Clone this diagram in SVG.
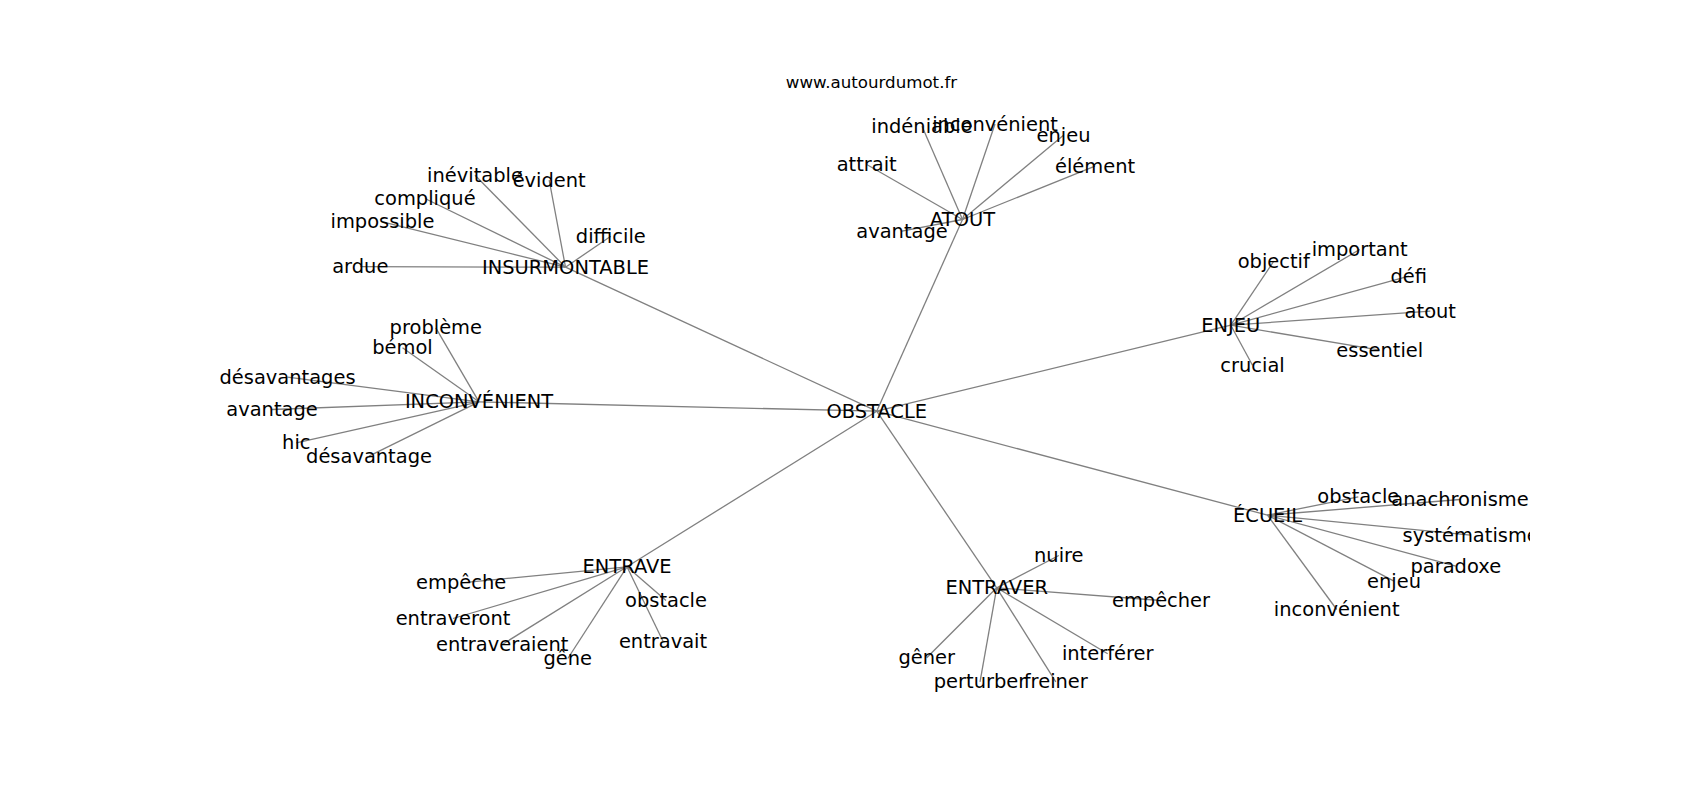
<svg xmlns="http://www.w3.org/2000/svg" width="1700" height="800" viewBox="0 0 1700 800">
<style>
text{font-family:"DejaVu Sans","Liberation Sans",sans-serif;font-size:19.44px;fill:#000;text-anchor:middle}
.title{font-size:16.67px}
#edges line{stroke:#808080;stroke-width:1.3}
</style>
<defs><clipPath id="ax"><rect x="212.5" y="96" width="1317.5" height="616"/></clipPath></defs>
<rect width="1700" height="800" fill="#fff"/>
<text class="title" x="871.5" y="88.3">www.autourdumot.fr</text>
<g id="edges" clip-path="url(#ax)">
<line x1="876.7" y1="411.2" x2="565.5" y2="267.2"/>
<line x1="876.7" y1="411.2" x2="962.5" y2="219.5"/>
<line x1="876.7" y1="411.2" x2="1230.8" y2="325.2"/>
<line x1="876.7" y1="411.2" x2="1267.5" y2="515.2"/>
<line x1="876.7" y1="411.2" x2="996.7" y2="587.8"/>
<line x1="876.7" y1="411.2" x2="627" y2="566.8"/>
<line x1="876.7" y1="411.2" x2="479" y2="401.8"/>
<line x1="565.5" y1="267.2" x2="360.3" y2="266.7"/>
<line x1="565.5" y1="267.2" x2="382.5" y2="221.8"/>
<line x1="565.5" y1="267.2" x2="425" y2="198.5"/>
<line x1="565.5" y1="267.2" x2="475" y2="175.2"/>
<line x1="565.5" y1="267.2" x2="549.2" y2="180.2"/>
<line x1="565.5" y1="267.2" x2="610.8" y2="236.2"/>
<line x1="962.5" y1="219.5" x2="922" y2="126.2"/>
<line x1="962.5" y1="219.5" x2="995" y2="124"/>
<line x1="962.5" y1="219.5" x2="1063.5" y2="135.2"/>
<line x1="962.5" y1="219.5" x2="1095" y2="166.2"/>
<line x1="962.5" y1="219.5" x2="866.7" y2="164.5"/>
<line x1="962.5" y1="219.5" x2="902" y2="231.2"/>
<line x1="479" y1="401.8" x2="435.8" y2="327.8"/>
<line x1="479" y1="401.8" x2="402.5" y2="347.8"/>
<line x1="479" y1="401.8" x2="287.5" y2="377.2"/>
<line x1="479" y1="401.8" x2="272" y2="409.5"/>
<line x1="479" y1="401.8" x2="296.3" y2="442.8"/>
<line x1="479" y1="401.8" x2="369" y2="456.2"/>
<line x1="1230.8" y1="325.2" x2="1273.8" y2="261.2"/>
<line x1="1230.8" y1="325.2" x2="1359.7" y2="249.5"/>
<line x1="1230.8" y1="325.2" x2="1408.8" y2="276.2"/>
<line x1="1230.8" y1="325.2" x2="1430.3" y2="311.2"/>
<line x1="1230.8" y1="325.2" x2="1379.8" y2="350.2"/>
<line x1="1230.8" y1="325.2" x2="1252.5" y2="365.2"/>
<line x1="1267.5" y1="515.2" x2="1358.3" y2="496.8"/>
<line x1="1267.5" y1="515.2" x2="1460" y2="499.5"/>
<line x1="1267.5" y1="515.2" x2="1470.7" y2="535.2"/>
<line x1="1267.5" y1="515.2" x2="1455.8" y2="566.2"/>
<line x1="1267.5" y1="515.2" x2="1394" y2="581.2"/>
<line x1="1267.5" y1="515.2" x2="1336.7" y2="609.5"/>
<line x1="627" y1="566.8" x2="461.2" y2="582.8"/>
<line x1="627" y1="566.8" x2="453" y2="618.5"/>
<line x1="627" y1="566.8" x2="502.2" y2="644.5"/>
<line x1="627" y1="566.8" x2="567.8" y2="658.5"/>
<line x1="627" y1="566.8" x2="666" y2="600.5"/>
<line x1="627" y1="566.8" x2="663" y2="641.2"/>
<line x1="996.7" y1="587.8" x2="1058.8" y2="555.5"/>
<line x1="996.7" y1="587.8" x2="1161" y2="600.5"/>
<line x1="996.7" y1="587.8" x2="1107.7" y2="653.8"/>
<line x1="996.7" y1="587.8" x2="926.7" y2="657.8"/>
<line x1="996.7" y1="587.8" x2="980" y2="681.8"/>
<line x1="996.7" y1="587.8" x2="1055.8" y2="681.8"/>
</g>
<g id="labels" clip-path="url(#ax)">
<g transform="translate(0,1)">
<g id="n-obstacle"><text x="876.7" y="416.7">OBSTACLE</text></g>
<g id="n-insurmontable"><text x="565.5" y="272.7">INSURMONTABLE</text></g>
<g id="n-atout"><text x="962.5" y="225">ATOUT</text></g>
<g id="n-enjeu"><text x="1230.8" y="330.7">ENJEU</text></g>
<g id="n-ecueil"><text x="1267.5" y="520.7">ÉCUEIL</text></g>
<g id="n-entraver"><text x="996.7" y="593.3">ENTRAVER</text></g>
<g id="n-entrave"><text x="627" y="572.3">ENTRAVE</text></g>
<g id="n-inconvenient"><text x="479" y="407.3">INCONVÉNIENT</text></g>
<g id="n-ardue"><text x="360.3" y="272.2">ardue</text></g>
<g id="n-impossible"><text x="382.5" y="227.3">impossible</text></g>
<g id="n-complique"><text x="425" y="204">compliqué</text></g>
<g id="n-inevitable"><text x="475" y="180.7">inévitable</text></g>
<g id="n-evident"><text x="549.2" y="185.7">évident</text></g>
<g id="n-difficile"><text x="610.8" y="241.7">difficile</text></g>
<g id="n-indeniable"><text x="922" y="131.7">indéniable</text></g>
<g id="n-inconvenient-a"><text x="995" y="129.5">inconvénient</text></g>
<g id="n-enjeu-a"><text x="1063.5" y="140.7">enjeu</text></g>
<g id="n-element"><text x="1095" y="171.7">élément</text></g>
<g id="n-attrait"><text x="866.7" y="170">attrait</text></g>
<g id="n-avantage-a"><text x="902" y="236.7">avantage</text></g>
<g id="n-probleme"><text x="435.8" y="333.3">problème</text></g>
<g id="n-bemol"><text x="402.5" y="353.3">bémol</text></g>
<g id="n-desavantages"><text x="287.5" y="382.7">désavantages</text></g>
<g id="n-avantage"><text x="272" y="415">avantage</text></g>
<g id="n-hic"><text x="296.3" y="448.3">hic</text></g>
<g id="n-desavantage"><text x="369" y="461.7">désavantage</text></g>
<g id="n-objectif"><text x="1273.8" y="266.7">objectif</text></g>
<g id="n-important"><text x="1359.7" y="255">important</text></g>
<g id="n-defi"><text x="1408.8" y="281.7">défi</text></g>
<g id="n-atout-e"><text x="1430.3" y="316.7">atout</text></g>
<g id="n-essentiel"><text x="1379.8" y="355.7">essentiel</text></g>
<g id="n-crucial"><text x="1252.5" y="370.7">crucial</text></g>
<g id="n-obstacle-e"><text x="1358.3" y="502.3">obstacle</text></g>
<g id="n-anachronisme"><text x="1460" y="505">anachronisme</text></g>
<g id="n-systematisme"><text x="1470.7" y="540.7">systématisme</text></g>
<g id="n-paradoxe"><text x="1455.8" y="571.7">paradoxe</text></g>
<g id="n-enjeu-e"><text x="1394" y="586.7">enjeu</text></g>
<g id="n-inconvenient-e"><text x="1336.7" y="615">inconvénient</text></g>
<g id="n-empeche"><text x="461.2" y="588.3">empêche</text></g>
<g id="n-entraveront"><text x="453" y="624">entraveront</text></g>
<g id="n-entraveraient"><text x="502.2" y="650">entraveraient</text></g>
<g id="n-gene"><text x="567.8" y="664">gêne</text></g>
<g id="n-obstacle-t"><text x="666" y="606">obstacle</text></g>
<g id="n-entravait"><text x="663" y="646.7">entravait</text></g>
<g id="n-nuire"><text x="1058.8" y="561">nuire</text></g>
<g id="n-empecher"><text x="1161" y="606">empêcher</text></g>
<g id="n-interferer"><text x="1107.7" y="659.3">interférer</text></g>
<g id="n-gener"><text x="926.7" y="663.3">gêner</text></g>
<g id="n-perturber"><text x="980" y="687.3">perturber</text></g>
<g id="n-freiner"><text x="1055.8" y="687.3">freiner</text></g>
</g>
</g>
</svg>
